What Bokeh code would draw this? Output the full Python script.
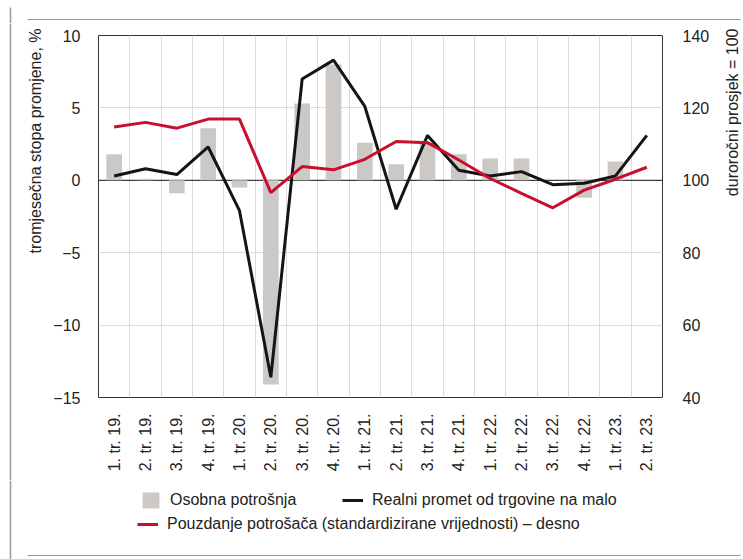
from math import pi
from bokeh.plotting import figure
from bokeh.layouts import column, row
from bokeh.models import (FactorRange, Range1d, LinearAxis, FixedTicker, Span,
                          Legend, LegendItem)
from bokeh.core.properties import value
from bokeh.embed import file_html
from bokeh.resources import INLINE

categories = ["1. tr. 19.", "2. tr. 19.", "3. tr. 19.", "4. tr. 19.",
              "1. tr. 20.", "2. tr. 20.", "3. tr. 20.", "4. tr. 20.",
              "1. tr. 21.", "2. tr. 21.", "3. tr. 21.", "4. tr. 21.",
              "1. tr. 22.", "2. tr. 22.", "3. tr. 22.", "4. tr. 22.",
              "1. tr. 23.", "2. tr. 23."]
osobna_potrosnja = [1.8, 0.1, -0.9, 3.6, -0.5, -14.1, 5.3, 8.0, 2.6, 1.1,
                    2.6, 1.8, 1.5, 1.5, 0.0, -1.2, 1.3, 0.0]
realni_promet = [0.3, 0.8, 0.4, 2.3, -2.1, -13.6, 7.0, 8.3, 5.1, -2.0,
                 3.1, 0.7, 0.3, 0.6, -0.3, -0.2, 0.3, 3.1]
pouzdanje = [114.7, 116.0, 114.4, 116.9, 116.9, 96.6, 103.8, 102.9, 105.8,
             110.7, 110.4, 105.6, 100.5, 96.4, 92.4, 97.3, 100.3, 103.6]
left_ticks = [-15, -10, -5, 0, 5, 10]
right_ticks = [40, 60, 80, 100, 120, 140]

left_title = "tromjesečna stopa promjene, %"
right_title = "duroročni prosjek = 100"
legend_labels = ["Osobna potrošnja", "Realni promet od trgovine na malo",
                 "Pouzdanje potrošača (standardizirane vrijednosti) \u2013 desno"]

FONT = "Liberation Sans"
FS = "16px"
TXT = "#222222"
BAR = "#cbc8c5"
BLACK = "#151515"
RED = "#c8102e"
RULE = "#9a9a9a"

W = 743
H_TOP, H_MID, H_LEG = 23, 457, 79
W_LEFT, W_RIGHT = 50, 31
W_MAIN = W - W_LEFT - W_RIGHT


def blank(w, h):
    f = figure(width=w, height=h, x_range=Range1d(0, w), y_range=Range1d(0, h),
               output_backend="svg", toolbar_location=None, min_border=0,
               x_axis_location=None, y_axis_location=None)
    f.grid.visible = False
    f.outline_line_color = None
    f.background_fill_color = "white"
    f.border_fill_color = "white"
    try:
        f.frame_align = False
    except Exception:
        pass
    return f


# top strip: vertical rule + top horizontal rule
top = blank(W, H_TOP)
top.segment(x0=[10], y0=[0], x1=[10], y1=[H_TOP - 7], line_color=RULE, line_width=1.5)
top.segment(x0=[27], y0=[4], x1=[740], y1=[4], line_color=RULE, line_width=1)

# left strip: vertical rule + left axis title
left = blank(W_LEFT, H_MID)
left.segment(x0=[10], y0=[0], x1=[10], y1=[H_MID], line_color=RULE, line_width=1.5)
left.text(x=[35], y=[H_MID - 5], text=[left_title], angle=pi / 2,
          text_align="right", text_baseline="middle",
          text_font=value(FONT), text_font_size=value(FS), text_color=TXT)

# right strip: right axis title
right = blank(W_RIGHT, H_MID)
right.text(x=[20], y=[H_MID - 5], text=[right_title], angle=pi / 2,
           text_align="right", text_baseline="middle",
           text_font=value(FONT), text_font_size=value(FS), text_color=TXT)

# main chart
p = figure(width=W_MAIN, height=H_MID, x_range=FactorRange(factors=categories),
           y_range=Range1d(-15, 10), output_backend="svg",
           toolbar_location=None, title=None,
           min_border_left=47, min_border_right=43,
           min_border_top=12, min_border_bottom=83)
try:
    p.frame_align = False
except Exception:
    pass
p.background_fill_color = "white"
p.border_fill_color = "white"
p.outline_line_color = "#333333"
p.outline_line_width = 1
p.outline_line_alpha = 1
p.extra_y_ranges = {"right": Range1d(40, 140)}

p.xgrid.ticker = FixedTicker(ticks=list(range(1, len(categories))))
p.xgrid.grid_line_color = "#dcdcdc"
p.ygrid.ticker = FixedTicker(ticks=[-10, -5, 5])
p.ygrid.grid_line_color = "#dcdcdc"


def style_axis(ax, standoff):
    ax.axis_line_color = None
    ax.major_tick_line_color = None
    ax.minor_tick_line_color = None
    ax.major_label_standoff = standoff
    ax.major_label_text_font = FONT
    ax.major_label_text_font_size = FS
    ax.major_label_text_color = TXT


ya = p.yaxis[0]
ya.ticker = FixedTicker(ticks=left_ticks)
ya.major_label_overrides = {t: ("\u2212" + str(abs(t)) if t < 0 else str(t)) for t in left_ticks}
style_axis(ya, 12)

ra = LinearAxis(y_range_name="right", ticker=FixedTicker(ticks=right_ticks))
style_axis(ra, 14)
p.add_layout(ra, "right")

xa = p.xaxis[0]
style_axis(xa, 10)
xa.major_label_orientation = pi / 2

p.vbar(x=categories, top=osobna_potrosnja, bottom=0, width=0.5,
       fill_color=BAR, line_color=None)
p.add_layout(Span(location=0, dimension="width", line_color="#111111",
                  line_width=1, level="underlay"))
p.line(x=categories, y=realni_promet, line_color=BLACK, line_width=3)
p.line(x=categories, y=pouzdanje, y_range_name="right", line_color=RED, line_width=3)

# legend strip (swatch renderers sit outside the visible range)
leg = blank(W, H_LEG)
leg.segment(x0=[10], y0=[0], x1=[10], y1=[H_LEG], line_color=RULE, line_width=1.5)
leg.segment(x0=[27], y0=[4], x1=[740], y1=[4], line_color=RULE, line_width=1)
r_bar = leg.vbar(x=[-500], top=[-500], bottom=[-501], width=1,
                 fill_color=BAR, line_color=None)
r_black = leg.line(x=[-500, -499], y=[-500, -500], line_color=BLACK, line_width=3)
r_red = leg.line(x=[-500, -499], y=[-500, -500], line_color=RED, line_width=3)

common = dict(orientation="horizontal", glyph_width=21, glyph_height=20,
              label_height=20, label_standoff=9, padding=0, margin=0, spacing=0,
              border_line_color=None, background_fill_alpha=0,
              label_text_font=FONT, label_text_font_size=FS,
              label_text_color=TXT)
for lab, rend, loc in [(legend_labels[0], r_bar, (140, 49)),
                       (legend_labels[1], r_black, (342, 49)),
                       (legend_labels[2], r_red, (137, 25))]:
    leg.add_layout(Legend(items=[LegendItem(label=lab, renderers=[rend])],
                          location=loc, **common), "center")

layout = column(top, row(left, p, right), leg)
open("out.html", "w").write(file_html(layout, INLINE))
